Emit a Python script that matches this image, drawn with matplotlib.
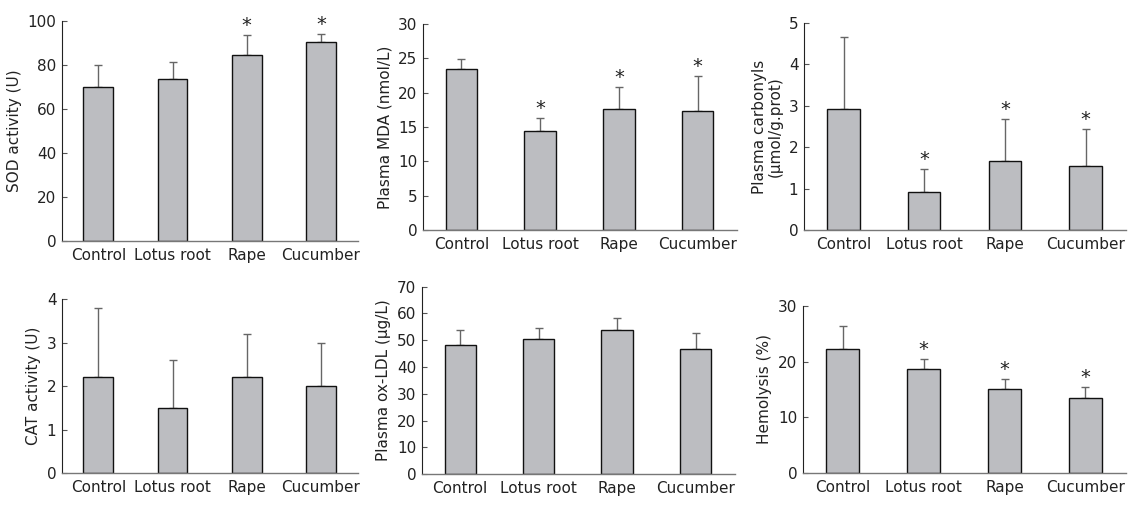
import matplotlib
matplotlib.use('Agg')
import matplotlib.pyplot as plt
import numpy as np

groups = ['Control', 'Lotus root', 'Rape', 'Cucumber']

sod_mean = [70.2, 73.7, 84.7, 90.4]
sod_err = [9.8, 7.5, 8.8, 3.9]
sod_sig = [False, False, True, True]

mda_mean = [23.4, 14.4, 17.6, 17.4]
mda_err = [1.45, 1.9, 3.3, 5.1]
mda_sig = [False, True, True, True]

carb_mean = [2.93, 0.91, 1.66, 1.54]
carb_err = [1.72, 0.57, 1.02, 0.91]
carb_sig = [False, True, True, True]

cat_mean = [2.2, 1.5, 2.2, 2.0]
cat_err = [1.6, 1.1, 1.0, 1.0]
cat_sig = [False, False, False, False]

oxldl_mean = [48.1, 50.5, 53.8, 46.8]
oxldl_err = [5.6, 4.1, 4.4, 5.8]
oxldl_sig = [False, False, False, False]

hemo_mean = [22.3, 18.6, 15.0, 13.4]
hemo_err = [4.1, 1.8, 1.8, 2.0]
hemo_sig = [False, True, True, True]

plt.rcParams['font.family'] = ['DejaVu Sans']
txt_col = '#222222'
fs = 11

fig = plt.figure(figsize=(11.43, 5.08), dpi=100)

panels = [
    # rect, mean, err, sig, ylim, ticks, label
    ([0.0542, 0.5256, 0.259, 0.433], sod_mean, sod_err, sod_sig, 100, np.arange(0, 101, 20), 'SOD activity (U)'),
    ([0.370, 0.547, 0.2747, 0.4055], mda_mean, mda_err, mda_sig, 30, np.arange(0, 31, 5), 'Plasma MDA (nmol/L)'),
    ([0.7034, 0.547, 0.2817, 0.408], carb_mean, carb_err, carb_sig, 5, np.arange(0, 6, 1), 'Plasma carbonyls\n(\u03bcmol/g.prot)'),
    ([0.0542, 0.0689, 0.259, 0.3425], cat_mean, cat_err, cat_sig, 4, np.arange(0, 5, 1), 'CAT activity (U)'),
    ([0.369, 0.0669, 0.2738, 0.3687], oxldl_mean, oxldl_err, oxldl_sig, 70, np.arange(0, 71, 10), 'Plasma ox-LDL (\u03bcg/L)'),
    ([0.7025, 0.0689, 0.2826, 0.329], hemo_mean, hemo_err, hemo_sig, 30, np.arange(0, 31, 10), 'Hemolysis (%)'),
]

x = np.arange(len(groups))
for rect, mean, err, sig, ymax, ticks, label in panels:
    ax = fig.add_axes(rect)
    ax.bar(x, mean, width=0.4, color='#bcbdc1', edgecolor='#111111', linewidth=1.0, zorder=2)
    ax.errorbar(x, mean, yerr=[np.zeros(len(err)), err], fmt='none', ecolor='#666666',
                elinewidth=1.0, capsize=3, capthick=1.0, zorder=1)
    for xi, m, e, s in zip(x, mean, err, sig):
        if s:
            ax.text(xi, m + e, '*', ha='center', va='bottom', fontsize=14, color=txt_col)
    ax.set_xlim(-0.49, 3.5)
    ax.set_ylim(0, ymax)
    ax.set_yticks(ticks)
    ax.set_xticks(x)
    ax.set_xticklabels(groups, fontsize=fs, color=txt_col)
    ax.tick_params(axis='x', length=0, pad=5)
    ax.tick_params(axis='y', direction='in', length=3.5, width=0.8, color='#555555',
                   labelsize=fs, labelcolor=txt_col, pad=4)
    ax.set_ylabel(label, fontsize=fs, color=txt_col, labelpad=4, linespacing=1.1)
    ax.spines['top'].set_visible(False)
    ax.spines['right'].set_visible(False)
    ax.spines['left'].set_color('#222222')
    ax.spines['left'].set_linewidth(0.8)
    ax.spines['bottom'].set_color('#777777')
    ax.spines['bottom'].set_linewidth(1.0)

fig.savefig('out.png', dpi=100)
